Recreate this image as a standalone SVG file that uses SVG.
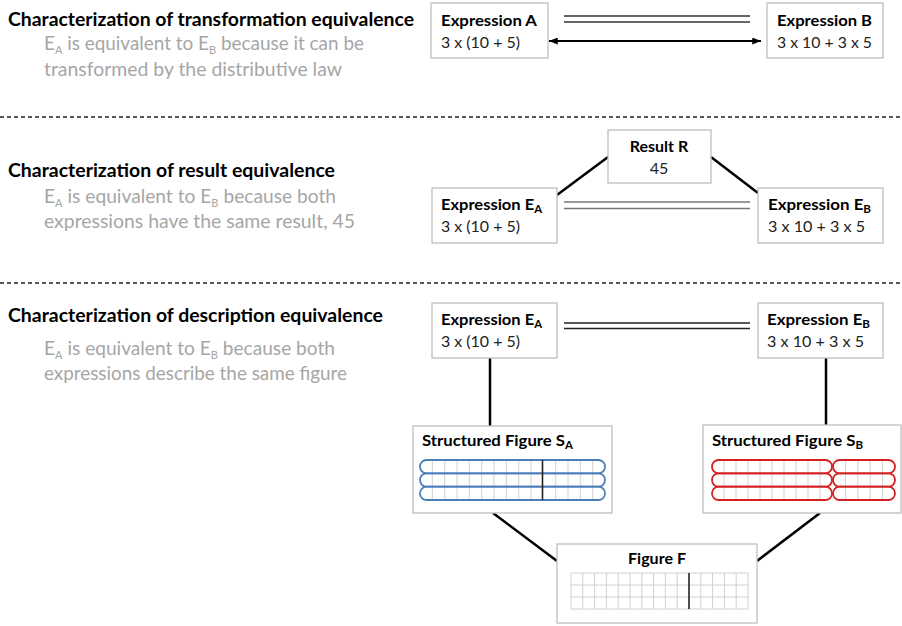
<svg xmlns="http://www.w3.org/2000/svg" width="902" height="626" viewBox="0 0 902 626">
<style>
text{font-family:Lato,"Open Sans","Liberation Sans",sans-serif}
.title{font-weight:bold;font-size:18px;fill:#000}
.gray{font-size:19px;fill:#a6a6a6}
.lb{font-weight:bold;font-size:16px;fill:#000}
.lr{font-size:16px;fill:#222}
.sub{font-size:11px}
.box{fill:#fff;stroke:#bfbfbf;stroke-width:1.3}
.sep{stroke:#222;stroke-width:1.3;stroke-dasharray:4 3;fill:none}
.eq{stroke-width:1.3;fill:none}
.con{stroke:#000;stroke-width:2.5;fill:none}
.grid{stroke:#d0d0d0;stroke-width:1;fill:none}
.dark{stroke:#222;stroke-width:1.6}
.pa{fill:none;stroke:#4a7ebb;stroke-width:1.8}
.pb{fill:none;stroke:#d42020;stroke-width:1.8}
</style>
<defs>
<marker id="ah" viewBox="0 0 10 8" refX="10" refY="4" markerWidth="9" markerHeight="7" markerUnits="userSpaceOnUse" orient="auto-start-reverse">
<path d="M0 0L10 4L0 8z" fill="#000"/>
</marker>
</defs>

<g id="separators">
<line class="sep" x1="0" y1="117" x2="902" y2="117"/>
<line class="sep" x1="0" y1="283" x2="902" y2="283"/>
</g>

<g id="captions">
<text class="title" x="8" y="26" textLength="406" lengthAdjust="spacingAndGlyphs">Characterization of transformation equivalence</text>
<text class="gray" x="44" y="50" textLength="320" lengthAdjust="spacingAndGlyphs">E<tspan class="sub" dy="4">A</tspan><tspan dy="-4"> is equivalent to E</tspan><tspan class="sub" dy="4">B</tspan><tspan dy="-4"> because it can be</tspan></text>
<text class="gray" x="44" y="76" textLength="298" lengthAdjust="spacingAndGlyphs">transformed by the distributive law</text>

<text class="title" x="8" y="177" textLength="327" lengthAdjust="spacingAndGlyphs">Characterization of result equivalence</text>
<text class="gray" x="44" y="203" textLength="292" lengthAdjust="spacingAndGlyphs">E<tspan class="sub" dy="4">A</tspan><tspan dy="-4"> is equivalent to E</tspan><tspan class="sub" dy="4">B</tspan><tspan dy="-4"> because both</tspan></text>
<text class="gray" x="44" y="228" textLength="311" lengthAdjust="spacingAndGlyphs">expressions have the same result, 45</text>

<text class="title" x="8" y="322" textLength="375" lengthAdjust="spacingAndGlyphs">Characterization of description equivalence</text>
<text class="gray" x="44" y="355" textLength="291" lengthAdjust="spacingAndGlyphs">E<tspan class="sub" dy="4">A</tspan><tspan dy="-4"> is equivalent to E</tspan><tspan class="sub" dy="4">B</tspan><tspan dy="-4"> because both</tspan></text>
<text class="gray" x="44" y="380" textLength="303" lengthAdjust="spacingAndGlyphs">expressions describe the same figure</text>
</g>

<g id="connectors">
<line class="eq" stroke="#333" x1="564" y1="16" x2="750" y2="16"/>
<line class="eq" stroke="#333" x1="564" y1="22" x2="750" y2="22"/>
<line stroke="#000" stroke-width="2" x1="549" y1="41" x2="761" y2="41" marker-start="url(#ah)" marker-end="url(#ah)"/>

<line class="eq" stroke="#777" x1="564" y1="202" x2="750" y2="202"/>
<line class="eq" stroke="#777" x1="564" y1="208.5" x2="750" y2="208.5"/>
<line class="con" x1="557" y1="195" x2="608" y2="157"/>
<line class="con" x1="711" y1="157" x2="758" y2="193"/>

<line class="eq" stroke="#222" x1="564" y1="323" x2="750" y2="323"/>
<line class="eq" stroke="#222" x1="564" y1="328.5" x2="750" y2="328.5"/>
<line class="con" x1="490" y1="358" x2="490" y2="426"/>
<line class="con" x1="826" y1="358" x2="826" y2="425"/>
<line class="con" x1="493" y1="513" x2="557" y2="561"/>
<line class="con" x1="820" y1="513" x2="757" y2="561"/>
</g>

<g id="expr-a">
<rect class="box" x="431" y="3" width="117" height="55"/>
<text class="lb" x="441" y="26" textLength="96" lengthAdjust="spacingAndGlyphs">Expression A</text>
<text class="lr" x="441" y="48" textLength="79" lengthAdjust="spacingAndGlyphs">3 x (10 + 5)</text>
</g>
<g id="expr-b">
<rect class="box" x="767" y="3" width="116" height="55"/>
<text class="lb" x="777" y="26" textLength="95" lengthAdjust="spacingAndGlyphs">Expression B</text>
<text class="lr" x="777" y="48" textLength="95" lengthAdjust="spacingAndGlyphs">3 x 10 + 3 x 5</text>
</g>

<g id="result-r">
<rect class="box" x="608" y="130" width="103" height="53"/>
<text class="lb" x="659" y="152" text-anchor="middle">Result R</text>
<text class="lr" x="659" y="174" text-anchor="middle">45</text>
</g>
<g id="expr-ea-2">
<rect class="box" x="432" y="188" width="125" height="55"/>
<text class="lb" x="441" y="210" textLength="101" lengthAdjust="spacingAndGlyphs">Expression E<tspan class="sub" dy="3">A</tspan></text>
<text class="lr" x="441" y="232" textLength="79" lengthAdjust="spacingAndGlyphs">3 x (10 + 5)</text>
</g>
<g id="expr-eb-2">
<rect class="box" x="758" y="188" width="125" height="55"/>
<text class="lb" x="768" y="210" textLength="103" lengthAdjust="spacingAndGlyphs">Expression E<tspan class="sub" dy="3">B</tspan></text>
<text class="lr" x="768" y="232" textLength="97" lengthAdjust="spacingAndGlyphs">3 x 10 + 3 x 5</text>
</g>

<g id="expr-ea-3">
<rect class="box" x="432" y="303" width="125" height="55"/>
<text class="lb" x="441" y="325" textLength="101" lengthAdjust="spacingAndGlyphs">Expression E<tspan class="sub" dy="3">A</tspan></text>
<text class="lr" x="441" y="347" textLength="79" lengthAdjust="spacingAndGlyphs">3 x (10 + 5)</text>
</g>
<g id="expr-eb-3">
<rect class="box" x="758" y="303" width="125" height="55"/>
<text class="lb" x="767" y="325" textLength="103" lengthAdjust="spacingAndGlyphs">Expression E<tspan class="sub" dy="3">B</tspan></text>
<text class="lr" x="767" y="347" textLength="97" lengthAdjust="spacingAndGlyphs">3 x 10 + 3 x 5</text>
</g>

<g id="structured-sa">
<rect class="box" x="413" y="426" width="199" height="87"/>
<text class="lb" x="422" y="446" textLength="151" lengthAdjust="spacingAndGlyphs">Structured Figure S<tspan class="sub" dy="3">A</tspan></text>
<path class="grid" d="M432.3 460V500M444.7 460V500M457 460V500M469.3 460V500M481.7 460V500M494 460V500M506.3 460V500M518.7 460V500M531 460V500M555.7 460V500M568 460V500M580.3 460V500M592.7 460V500"/>
<rect class="pa" x="420" y="460" width="185" height="13.3" rx="6.6"/>
<rect class="pa" x="420" y="473.3" width="185" height="13.4" rx="6.6"/>
<rect class="pa" x="420" y="486.7" width="185" height="13.3" rx="6.6"/>
<line class="dark" x1="542.5" y1="460" x2="542.5" y2="500"/>
</g>

<g id="structured-sb">
<rect class="box" x="703" y="425" width="198" height="88"/>
<text class="lb" x="712" y="446" textLength="151" lengthAdjust="spacingAndGlyphs">Structured Figure S<tspan class="sub" dy="3">B</tspan></text>
<path class="grid" d="M724 460V500M736 460V500M748 460V500M760 460V500M772 460V500M784 460V500M796 460V500M808 460V500M820 460V500M845.4 460V500M857.8 460V500M870.2 460V500M882.6 460V500"/>
<rect class="pb" x="712" y="460" width="120" height="13.3" rx="6.6"/>
<rect class="pb" x="712" y="473.3" width="120" height="13.4" rx="6.6"/>
<rect class="pb" x="712" y="486.7" width="120" height="13.3" rx="6.6"/>
<rect class="pb" x="833" y="460" width="62" height="13.3" rx="6.6"/>
<rect class="pb" x="833" y="473.3" width="62" height="13.4" rx="6.6"/>
<rect class="pb" x="833" y="486.7" width="62" height="13.3" rx="6.6"/>
</g>

<g id="figure-f">
<rect class="box" x="557" y="544" width="200" height="79"/>
<text class="lb" x="657" y="564" text-anchor="middle" textLength="58" lengthAdjust="spacingAndGlyphs">Figure F</text>
<path class="grid" d="M571 573H748M571 585H748M571 597H748M571 609H748M571 573V609M582.8 573V609M594.6 573V609M606.4 573V609M618.2 573V609M630 573V609M641.8 573V609M653.6 573V609M665.4 573V609M677.2 573V609M700.8 573V609M712.6 573V609M724.4 573V609M736.2 573V609M748 573V609"/>
<line class="dark" x1="689" y1="573" x2="689" y2="609"/>
</g>
</svg>
